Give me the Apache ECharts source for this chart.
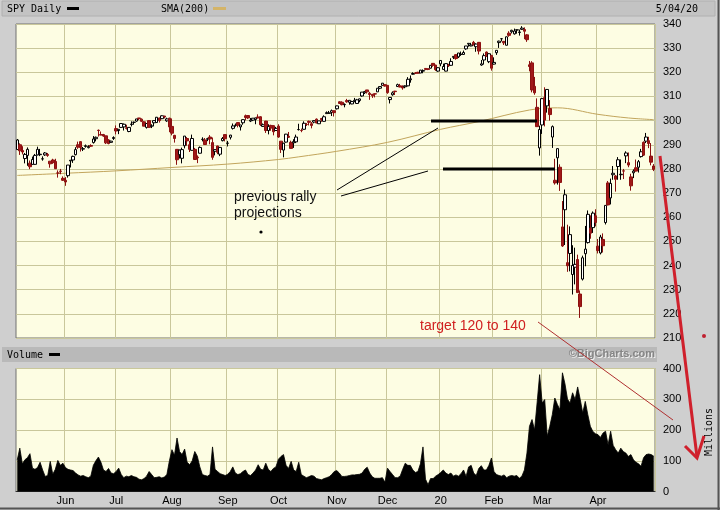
<!DOCTYPE html>
<html><head><meta charset="utf-8">
<script src="https://cdn.jsdelivr.net/npm/echarts@6/dist/echarts.min.js"></script>
<style>html,body{margin:0;padding:0;background:#cfcfcf}#c{width:720px;height:510px}</style>
</head><body><div id="c"></div>
<script>
// ---- trading calendar ----
const firstDay = '2019-05-06';
const lastDay = '2020-05-04';
const holidays = ['2019-05-27','2019-07-04','2019-09-02','2019-11-28','2019-12-25','2020-01-01','2020-01-20','2020-02-17','2020-04-10'];
const monthLabels = ['20','Feb','Mar','Apr','May','Jun','Jul','Aug','Sep','Oct','Nov','Dec'];
const priceAxis = [210, 340, 10];
const volumeAxis = [0, 400, 100];

// ---- SPY daily OHLC ----
const open = [
288.0,290.0,287.6,284.3,285.6,282.4,281.9,281.9,285.8,285.9,284.1,285.8,286.0,283.2,283.7,283.1,278.3,279.1,276.1,
275.3,277.2,283.3,283.7,285.9,290.0,291.3,288.2,289.3,288.8,289.7,290.9,292.5,296.0,294.2,294.2,293.7,292.0,291.0,292.6,
296.7,295.9,297.2,297.4,297.0,295.5,298.4,299.3,299.8,301.1,300.6,299.5,297.2,300.0,297.6,299.1,299.2,301.1,300.8,301.9,299.9,301.0,
297.6,293.9,288.1,285.9,284.4,289.6,292.6,290.0,287.7,288.1,284.9,286.5,292.2,292.0,292.3,293.2,290.9,287.3,289.5,286.1,291.7,294.2,
290.6,293.1,296.8,298.0,299.2,297.4,299.1,302.0,302.1,299.8,300.2,300.5,301.5,301.6,297.6,299.8,295.9,298.0,297.9,295.9,
297.7,291.5,287.8,291.1,293.5,291.0,290.8,291.2,296.3,295.9,296.4,298.4,299.7,298.7,299.4,300.6,298.7,300.9,299.7,302.9,303.0,303.4,304.1,
304.9,307.8,307.6,306.6,308.3,307.6,306.9,308.0,307.1,308.3,310.2,311.5,312.7,311.3,310.9,311.1,311.9,313.4,314.6,314.9,
314.6,308.7,310.7,312.2,314.1,314.4,313.8,314.0,314.4,316.9,319.2,319.7,320.0,319.7,320.5,321.6,321.5,321.7,323.7,323.0,320.5,
323.5,321.2,320.5,323.0,322.9,326.2,327.3,326.4,327.4,327.4,329.7,331.7,330.9,332.4,330.6,332.4,323.0,325.1,328.4,324.4,327.0,
323.4,328.1,332.3,333.9,332.8,331.2,336.2,336.8,335.9,337.5,336.5,337.8,337.7,335.5,323.1,323.9,314.2,305.5,288.7,
298.2,309.5,306.1,305.0,293.2,275.3,284.6,280.7,256.0,263.1,241.2,245.0,236.3,239.3,242.5,228.2,234.4,244.9,249.5,255.5,255.7,260.6,
248.0,245.2,250.8,257.8,274.2,268.0,277.6,277.1,281.0,277.6,279.2,285.4,282.6,276.7,278.4,280.5,280.7,285.1,291.0,291.5,291.7,
285.3,281.2];
const high = [
292.4,290.6,289.4,286.6,288.9,283.5,285.1,286.2,289.2,288.3,285.2,287.0,286.6,283.2,284.2,284.2,279.4,280.0,276.9,
276.6,281.6,283.6,285.5,289.0,291.3,291.4,289.1,290.1,289.8,290.2,293.6,293.4,296.3,295.5,294.5,293.7,292.3,291.7,293.5,
298.0,296.5,298.8,298.8,298.3,297.3,299.7,299.6,300.7,301.1,300.9,299.8,299.0,300.1,298.5,300.0,301.5,301.2,302.2,301.9,301.2,301.2,
300.9,294.1,288.2,288.0,288.8,293.6,293.2,291.6,294.2,288.7,285.6,289.3,293.1,292.8,292.9,294.0,293.0,288.0,289.6,289.1,293.2,294.2,
291.6,294.1,298.8,298.8,299.2,298.2,300.5,302.5,302.2,301.1,301.0,301.2,302.6,301.8,298.8,299.9,298.5,298.3,298.1,297.4,
298.5,291.5,290.5,294.5,295.3,291.7,292.3,294.2,298.7,296.7,299.7,299.0,300.0,299.4,300.2,300.9,299.9,301.1,302.2,303.8,304.0,304.6,304.2,
306.2,308.0,308.0,307.1,309.0,308.4,308.2,309.4,309.0,309.1,311.8,312.3,312.7,311.9,311.0,311.2,313.4,314.1,315.5,315.1,
314.7,309.7,312.1,312.3,315.3,315.2,314.6,314.6,318.0,318.7,320.0,320.1,320.2,321.0,321.2,321.7,321.5,323.0,323.8,323.1,322.1,
324.9,323.6,323.7,323.5,325.8,326.7,327.5,328.0,328.6,329.0,330.9,332.0,332.2,333.0,332.0,332.5,325.1,327.8,328.6,327.9,327.2,
326.2,329.1,333.1,334.2,333.0,334.8,337.0,337.6,338.1,337.7,337.7,339.1,338.6,335.8,324.7,324.6,318.1,309.2,297.9,
309.2,313.8,313.1,308.5,298.0,284.2,288.5,281.9,266.7,271.5,256.9,256.2,248.4,247.4,244.5,229.7,244.1,256.4,262.8,260.8,262.4,263.3,
251.0,252.7,253.3,265.0,275.0,276.0,281.2,277.5,284.9,283.9,280.0,287.3,286.8,278.0,279.8,283.9,283.7,288.3,291.4,294.9,293.3,
290.7,282.0];
const low = [
287.9,285.8,286.0,282.3,281.3,279.9,281.8,281.7,285.6,285.3,283.4,285.4,285.0,280.5,282.1,280.0,276.4,277.8,275.0,
273.0,276.4,280.6,282.5,285.6,288.3,287.2,287.4,288.8,288.5,289.1,290.5,291.4,293.4,294.0,293.3,290.3,290.2,290.8,292.0,
294.3,294.4,297.0,295.9,296.3,295.2,297.6,298.3,299.5,300.2,299.4,297.7,296.7,297.2,296.9,297.6,299.1,299.2,300.6,300.9,299.5,295.2,
293.9,290.9,281.7,284.3,282.3,288.5,289.6,287.0,287.6,283.8,282.4,286.4,291.4,290.0,291.5,290.2,283.8,285.6,286.1,285.3,291.4,291.4,
289.3,292.2,296.3,297.5,297.2,295.9,298.3,300.1,300.7,299.4,299.8,298.5,300.9,297.8,297.4,294.9,294.3,295.8,293.9,295.8,
292.9,286.6,284.8,290.9,292.8,288.5,288.7,290.7,295.9,295.2,296.3,297.8,298.0,296.8,298.9,298.9,298.6,299.5,299.6,302.8,302.9,301.9,301.7,
304.6,306.9,306.3,305.5,307.4,306.6,306.8,307.6,306.9,307.6,309.9,311.0,311.2,308.6,309.4,309.6,311.9,313.0,314.5,314.1,
311.1,307.1,310.3,310.6,314.0,313.8,312.8,313.4,314.2,315.7,319.0,319.3,319.5,319.7,319.6,320.9,320.9,321.6,322.3,320.6,320.2,
322.5,321.1,320.4,322.2,322.7,325.5,325.2,325.9,326.8,327.3,329.3,330.6,330.8,331.2,328.5,327.4,322.7,323.2,326.4,323.8,320.7,
323.2,327.2,330.1,332.8,331.3,331.2,334.7,336.1,335.6,336.0,335.2,337.5,333.7,332.6,320.4,311.7,310.7,297.5,285.5,
294.5,297.6,303.3,300.0,288.7,273.5,273.5,270.9,247.7,248.5,237.4,237.6,228.0,232.2,228.8,218.3,233.8,239.7,249.1,251.1,253.5,256.2,
245.0,244.6,245.4,257.0,264.9,265.3,275.5,270.6,275.5,275.5,275.8,282.4,280.7,271.0,276.2,278.9,278.5,284.7,285.4,290.7,288.6,
281.5,279.1];
const close = [
292.0,287.5,287.0,286.0,288.1,280.9,283.9,285.6,288.1,286.1,284.2,286.6,285.6,282.1,282.6,280.1,278.3,279.0,275.3,
274.6,281.6,283.6,285.2,288.0,289.0,288.9,288.4,289.6,289.3,289.4,292.4,293.1,295.9,294.0,293.6,290.8,290.5,291.5,293.0,
295.7,296.4,298.8,298.5,296.8,297.2,298.6,299.3,300.7,300.8,299.7,297.7,298.8,297.2,297.9,300.0,301.4,300.0,302.0,301.5,300.7,297.4,
294.8,292.6,283.8,287.8,288.0,293.6,291.6,288.1,292.6,283.9,284.6,288.9,292.3,290.1,292.5,292.4,284.8,288.0,286.9,288.9,292.6,292.5,
290.7,294.0,297.8,298.1,298.1,298.2,300.4,301.3,301.1,300.2,301.0,301.1,301.1,298.3,298.3,295.9,297.6,296.9,295.4,296.8,
293.2,288.1,290.7,294.4,293.1,288.5,291.3,293.2,296.3,295.9,298.9,298.4,299.3,298.0,300.0,299.0,299.9,300.4,301.6,303.3,303.2,304.1,303.3,
306.1,307.1,306.6,306.7,307.8,308.4,307.9,308.4,308.6,309.0,311.8,312.0,311.9,310.8,310.3,311.0,313.4,314.1,315.5,314.3,
311.6,309.6,311.5,312.0,314.9,313.9,313.5,314.4,317.1,317.3,319.5,319.6,319.6,320.9,320.7,321.2,321.2,322.9,322.9,321.1,321.9,
324.9,322.4,323.6,322.7,324.5,326.6,325.7,328.0,327.5,328.2,330.9,332.0,331.3,331.3,331.7,328.8,323.5,326.9,326.6,327.7,321.7,
324.1,329.1,332.9,333.9,332.2,334.7,335.3,337.4,337.1,337.6,336.7,338.3,337.0,333.5,322.4,312.7,311.5,297.5,296.3,
309.1,300.2,312.9,302.5,297.5,274.2,288.4,274.4,248.1,269.3,239.9,252.8,240.0,240.5,228.8,223.0,243.2,246.8,261.2,253.4,261.7,257.8,
246.2,251.8,248.2,264.9,265.1,274.0,278.2,275.7,283.8,277.8,279.1,286.6,281.6,273.0,279.1,279.1,283.0,287.1,285.7,293.2,290.5,
282.8,279.8];

// ---- volume, millions ----
const volume = [
103,141,90,103,110,123,76,72,78,95,70,49,52,98,56,72,101,85,92,
78,72,70,68,60,54,50,52,48,45,50,85,100,112,95,70,65,75,60,58,
65,76,55,45,50,48,52,48,46,40,38,42,50,65,55,45,46,48,44,47,55,100,
136,118,174,130,120,138,95,87,100,130,115,80,55,52,50,55,145,72,65,58,55,52,
56,65,80,60,55,58,65,70,55,52,60,70,87,72,70,92,72,65,75,80,
105,114,120,85,75,98,70,65,95,55,50,45,48,52,50,42,40,38,42,45,48,55,65,
68,60,49,49,50,52,54,54,55,56,60,72,79,60,48,43,43,43,45,30,
76,65,55,45,45,50,72,92,85,85,70,62,65,90,145,40,22,42,42,50,55,
62,70,60,55,60,50,54,50,58,70,49,80,85,60,52,75,84,70,70,85,109,
65,55,52,50,54,45,50,52,50,52,43,50,70,125,212,234,200,288,380,
288,299,180,212,250,304,283,266,386,350,300,288,321,299,340,300,255,293,250,212,195,188,
185,176,190,196,152,196,150,136,125,141,130,125,114,120,103,95,90,82,110,120,122,
120,115];

// ---- 200-day SMA, read at selected days ----
const smaIdx = [0,19,39,61,83,103,111,126,146,167,182,202,213,229,241,251];
const smaVal = [277.3,278.2,279.2,280.6,282.0,283.9,285.0,287.3,291.0,296.4,299.6,304.4,305.3,302.6,301.1,300.4];

// ---- build dates ----
const dates = [];
{
  let t = Date.parse(firstDay + 'T00:00:00Z');
  const end = Date.parse(lastDay + 'T00:00:00Z');
  while (t <= end) {
    const d = new Date(t);
    const s = d.toISOString().slice(0, 10);
    const wd = d.getUTCDay();
    if (wd !== 0 && wd !== 6 && !holidays.includes(s)) dates.push(s);
    t += 86400000;
  }
}
// month boundaries (the partial last month gets no gridline / label)
const monthStart = new Set();
for (let i = 1; i < dates.length - 5; i++) {
  if (dates[i].slice(5, 7) !== dates[i - 1].slice(5, 7)) monthStart.add(i);
}
const isMonthStart = (i) => monthStart.has(i);

const GRID = '#c9c79b';
const PLOT_BG = '#fdfde3';
const LABEL_FONT = 'Liberation Sans, Arial, sans-serif';
const MONO = '"DejaVu Sans Mono", monospace';

const chart = echarts.init(document.getElementById('c'), null, {renderer: 'canvas'});
const option = {
  animation: false,
  backgroundColor: '#cfcfcf',
  grid: [
    {left: 16, width: 639, top: 24, height: 314, show: true, backgroundColor: PLOT_BG, borderColor: '#707070', borderWidth: 1},
    {left: 16, width: 639, top: 368.5, height: 123, show: true, backgroundColor: PLOT_BG, borderColor: '#707070', borderWidth: 1}
  ],
  xAxis: [
    {type: 'category', gridIndex: 0, data: dates, boundaryGap: true,
     axisLine: {show: false}, axisTick: {show: false}, axisLabel: {show: false},
     splitLine: {show: true, interval: isMonthStart, lineStyle: {color: GRID, width: 1}}},
    {type: 'category', gridIndex: 1, data: dates, boundaryGap: true,
     axisLine: {show: true, lineStyle: {color: '#303030'}}, axisTick: {show: false},
     axisLabel: {interval: isMonthStart, formatter: (v) => monthLabels[+v.slice(5, 7) - 1],
                 color: '#000', fontFamily: LABEL_FONT, fontSize: 11, margin: 4},
     splitLine: {show: true, interval: isMonthStart, lineStyle: {color: GRID, width: 1}}}
  ],
  yAxis: [
    {type: 'value', gridIndex: 0, position: 'right', min: priceAxis[0], max: priceAxis[1], interval: priceAxis[2],
     axisLine: {show: false}, axisTick: {show: false},
     axisLabel: {color: '#000', fontFamily: LABEL_FONT, fontSize: 11, margin: 8},
     splitLine: {show: true, lineStyle: {color: GRID, width: 1}}},
    {type: 'value', gridIndex: 1, position: 'right', min: volumeAxis[0], max: volumeAxis[1], interval: volumeAxis[2],
     axisLine: {show: false}, axisTick: {show: false},
     axisLabel: {color: '#000', fontFamily: LABEL_FONT, fontSize: 11, margin: 8},
     splitLine: {show: true, lineStyle: {color: GRID, width: 1}}}
  ],
  series: [
    {type: 'candlestick', name: 'SPY Daily', xAxisIndex: 0, yAxisIndex: 0, barWidth: 3,
     data: dates.map((_, i) => [open[i], close[i], low[i], high[i]]),
     itemStyle: {color: '#ffffff', color0: '#a01818', borderColor: '#000000', borderColor0: '#8c1010', borderWidth: 1},
     z: 3},
    {type: 'line', name: 'SMA(200)', xAxisIndex: 0, yAxisIndex: 0,
     data: smaIdx.map((ix, k) => [dates[ix], smaVal[k]]),
     showSymbol: false, smooth: 0.35, lineStyle: {color: '#c2a55c', width: 1}, z: 2},
    {type: 'line', name: 'Volume', xAxisIndex: 1, yAxisIndex: 1, data: volume,
     showSymbol: false, lineStyle: {color: '#000', width: 0.8}, areaStyle: {color: '#000', opacity: 1}}
  ],
  graphic: [
    // header bar
    {type: 'rect', shape: {x: 2, y: 1, width: 713, height: 15}, style: {fill: '#c3c3c3', stroke: '#b0b0b0'}, z: -1},
    {type: 'text', x: 7, y: 9, style: {text: 'SPY Daily', fill: '#000', font: '10px ' + MONO, verticalAlign: 'middle'}},
    {type: 'rect', shape: {x: 67, y: 7, width: 12, height: 3}, style: {fill: '#000'}},
    {type: 'text', x: 161, y: 9, style: {text: 'SMA(200)', fill: '#000', font: '10px ' + MONO, verticalAlign: 'middle'}},
    {type: 'rect', shape: {x: 213, y: 7, width: 13, height: 3}, style: {fill: '#d4b468'}},
    {type: 'text', x: 698, y: 9, style: {text: '5/04/20', fill: '#000', font: '10px ' + MONO, align: 'right', verticalAlign: 'middle'}},
    // volume bar
    {type: 'rect', shape: {x: 2, y: 347, width: 655, height: 15}, style: {fill: '#b9b9b9'}, z: -1},
    {type: 'text', x: 7, y: 355, style: {text: 'Volume', fill: '#000', font: '10px ' + MONO, verticalAlign: 'middle'}},
    {type: 'rect', shape: {x: 49, y: 353, width: 11, height: 3}, style: {fill: '#000'}},
    {type: 'text', x: 656, y: 355, style: {text: '\u00a9BigCharts.com', fill: '#eeeeee', font: 'bold 11px ' + LABEL_FONT, align: 'right', verticalAlign: 'middle'}},
    {type: 'text', x: 655, y: 354, style: {text: '\u00a9BigCharts.com', fill: '#858585', font: 'bold 11px ' + LABEL_FONT, align: 'right', verticalAlign: 'middle'}},
    {type: 'text', x: 709, y: 432, rotation: Math.PI / 2, style: {text: 'Millions', fill: '#000', font: '10px ' + MONO, align: 'center', verticalAlign: 'middle'}},
    // frame edges
    {type: 'line', shape: {x1: 718.5, y1: 0, x2: 718.5, y2: 510}, style: {stroke: '#555', lineWidth: 2}, z: 50},
    {type: 'line', shape: {x1: 0, y1: 508.5, x2: 720, y2: 508.5}, style: {stroke: '#555', lineWidth: 2}, z: 50},
    // annotations
    {type: 'line', shape: {x1: 431, y1: 121, x2: 537, y2: 121}, style: {stroke: '#000', lineWidth: 3}, z: 100},
    {type: 'line', shape: {x1: 443, y1: 169, x2: 555, y2: 169}, style: {stroke: '#000', lineWidth: 3}, z: 100},
    {type: 'line', shape: {x1: 337, y1: 190, x2: 438, y2: 128}, style: {stroke: '#000', lineWidth: 1}, z: 100},
    {type: 'line', shape: {x1: 341, y1: 196, x2: 428, y2: 171}, style: {stroke: '#000', lineWidth: 1}, z: 100},
    {type: 'text', x: 234, y: 197, style: {text: 'previous rally', fill: '#111', font: '14px ' + LABEL_FONT, verticalAlign: 'middle'}, z: 100},
    {type: 'text', x: 234, y: 213, style: {text: 'projections', fill: '#111', font: '14px ' + LABEL_FONT, verticalAlign: 'middle'}, z: 100},
    {type: 'circle', shape: {cx: 261, cy: 232, r: 1.6}, style: {fill: '#000'}, z: 100},
    {type: 'text', x: 420, y: 326, style: {text: 'target 120 to 140', fill: '#d02020', font: '14px ' + LABEL_FONT, verticalAlign: 'middle'}, z: 100},
    {type: 'line', shape: {x1: 538, y1: 322, x2: 673, y2: 420}, style: {stroke: '#b03030', lineWidth: 1}, z: 100},
    {type: 'line', shape: {x1: 660, y1: 156, x2: 697, y2: 457}, style: {stroke: '#d0202c', lineWidth: 3}, z: 100},
    {type: 'polyline', shape: {points: [[685, 446], [697, 458], [704, 436]]}, style: {stroke: '#d0202c', lineWidth: 3, fill: null}, z: 100},
    {type: 'circle', shape: {cx: 704, cy: 336, r: 2}, style: {fill: '#c02030'}, z: 100}
  ]
};
chart.setOption(option);
</script>
</body></html>
